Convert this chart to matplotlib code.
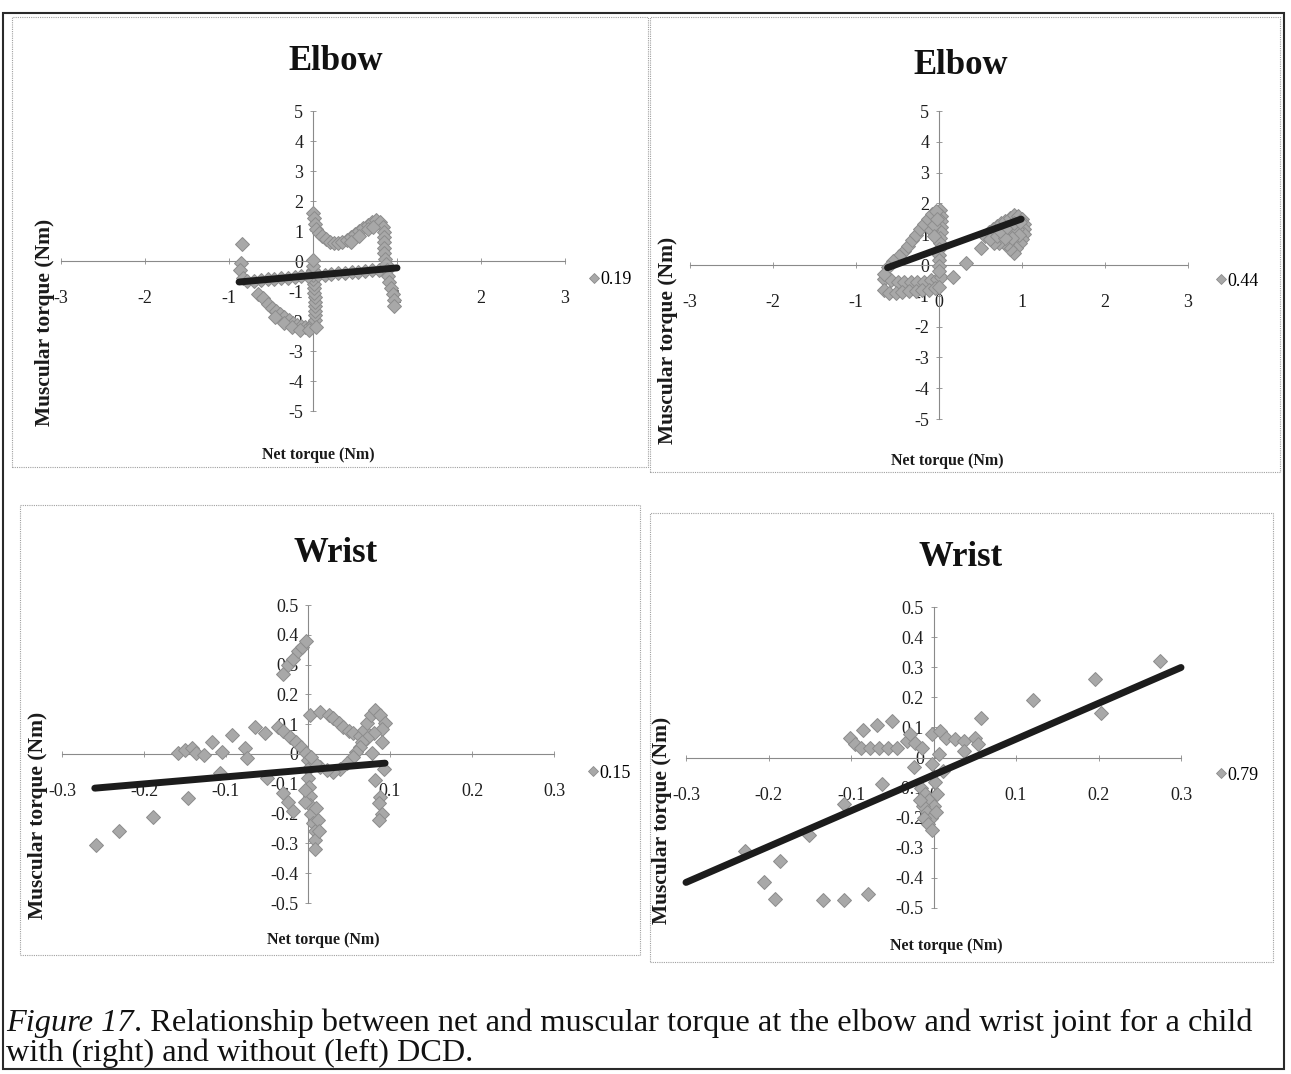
import numpy as np
import matplotlib
matplotlib.use("Agg")
import matplotlib.pyplot as plt
from matplotlib.lines import Line2D
from matplotlib.patches import Rectangle

plt.rcParams['font.family'] = ['Liberation Serif', 'DejaVu Serif']
plt.rcParams['axes.unicode_minus'] = False

W, H = 1291, 1074

# ---------------- data ----------------
# Elbow, child without DCD (left)
elbow_left_x = [
    -0.85, -0.86, -0.87, -0.83, -0.66, -0.60, -0.54, -0.49, -0.44, -0.39, -0.34, -0.29,
    -0.24, -0.19, -0.14, -0.09, -0.04, 0.00, 0.02, 0.02, 0.02, 0.02, 0.02, 0.02, 0.01,
    0.01, 0.01, 0.00, 0.00, 0.00, 0.00, 0.00,
    -0.45, -0.35, -0.25, -0.15, -0.05, 0.04,
    -0.78, -0.70, -0.62, -0.54, -0.46, -0.38, -0.30, -0.22, -0.14, -0.06, 0.06, 0.14,
    0.22, 0.30, 0.38, 0.46, 0.54, 0.62, 0.70, 0.78,
    0.00, 0.01, 0.02, 0.04, 0.07, 0.11, 0.15, 0.20, 0.25, 0.30, 0.35, 0.40, 0.45, 0.50,
    0.55, 0.60, 0.65, 0.70, 0.75, 0.80, 0.83, 0.85, 0.85, 0.85, 0.85, 0.85, 0.86, 0.87,
    0.88, 0.89, 0.91, 0.93, 0.95, 0.96, 0.97,
    0.45, 0.55, 0.65, 0.72,
]
elbow_left_y = [
    0.58, -0.08, -0.30, -0.55, -1.10, -1.22, -1.42, -1.55, -1.66, -1.76, -1.86, -1.96,
    -2.05, -2.13, -2.18, -2.20, -2.18, -2.10, -1.95, -1.80, -1.65, -1.50, -1.35, -1.20, -1.05,
    -0.90, -0.75, -0.60, -0.45, -0.30, -0.15, 0.02,
    -1.85, -2.05, -2.20, -2.30, -2.30, -2.20,
    -0.67, -0.65, -0.63, -0.61, -0.59, -0.57, -0.55, -0.53, -0.51, -0.50, -0.47, -0.45,
    -0.43, -0.41, -0.39, -0.37, -0.35, -0.33, -0.31, -0.29,
    1.60, 1.42, 1.25, 1.08, 0.94, 0.82, 0.72, 0.64, 0.60, 0.60, 0.64, 0.70, 0.80, 0.90,
    1.00, 1.10, 1.20, 1.30, 1.36, 1.30, 1.15, 0.98, 0.80, 0.62, 0.44, 0.26, 0.08, -0.10,
    -0.30, -0.50, -0.70, -0.90, -1.10, -1.30, -1.50,
    0.65, 0.85, 1.05, 1.15,
]

# Elbow, child with DCD (right)
elbow_right_x = [
    -0.66, -0.58, -0.50, -0.42, -0.34, -0.26, -0.18, -0.10, -0.03, 0.02,
    -0.66, -0.60, -0.52, -0.44, -0.36, -0.28, -0.20, -0.12, -0.05, 0.00,
    0.01, 0.02, 0.02, 0.02, 0.02, 0.01, 0.01, 0.00, 0.00, 0.00, 0.00, 0.00,
    -0.42, -0.37, -0.33, -0.28, -0.23, -0.18, -0.13, -0.08, -0.04,
    -0.10, -0.06, -0.06, -0.03, -0.48, -0.55, -0.61, -0.66,
    0.17, 0.33, 0.50,
    0.56, 0.60, 0.65, 0.70, 0.75, 0.80, 0.85, 0.90, 0.95, 1.00, 1.03, 1.03, 1.02, 1.00,
    0.97, 0.93, 0.90, 0.86, 0.82, 0.77, 0.72, 0.66, 0.62, 0.70, 0.78, 0.86, 0.94, 0.96,
    0.88, 0.80, 0.74, 0.82, 0.90, 0.97,
]
elbow_right_y = [
    -0.45, -0.50, -0.55, -0.55, -0.55, -0.55, -0.55, -0.50, -0.45, -0.40,
    -0.80, -0.90, -0.90, -0.88, -0.85, -0.85, -0.82, -0.80, -0.75, -0.70,
    1.78, 1.60, 1.42, 1.24, 1.06, 0.88, 0.70, 0.52, 0.34, 0.16, -0.02, -0.20,
    0.45, 0.62, 0.80, 0.98, 1.16, 1.34, 1.50, 1.65, 1.76,
    1.15, 1.30, 0.95, 1.50, 0.30, 0.12, -0.08, -0.28,
    -0.38, 0.05, 0.55,
    0.95, 1.08, 1.18, 1.28, 1.36, 1.44, 1.52, 1.62, 1.58, 1.48, 1.34, 1.18, 1.02, 0.86,
    0.70, 0.54, 0.38, 0.52, 0.68, 0.76, 0.70, 0.72, 0.85, 0.95, 1.02, 1.10, 1.18, 0.98,
    0.88, 0.88, 1.12, 1.22, 1.35, 1.38,
]

# Wrist, child without DCD (left)
wrist_left_x = [
    -0.258, -0.231, -0.189, -0.146, -0.158, -0.150, -0.142, -0.136, -0.127, -0.117,
    -0.105, -0.093, -0.077, -0.075, -0.065, -0.052, -0.036, -0.030, -0.022, -0.015,
    -0.008, -0.003, -0.030, -0.025, -0.018, -0.050, -0.107,
    -0.030, -0.024, -0.018, -0.012, -0.007, -0.002,
    0.000, 0.000, 0.000, 0.001, 0.002, 0.003, 0.004, 0.006, 0.008, 0.009, 0.008, 0.010,
    0.012, 0.013, -0.004, -0.004,
    0.002, 0.015, 0.025, 0.031, 0.038, 0.043, 0.050, 0.055, 0.063, 0.068, 0.072, 0.077,
    0.082, 0.088, 0.094, 0.090, 0.080, 0.072, 0.066, 0.063, 0.059, 0.055, 0.047, 0.039,
    0.031, 0.023, 0.015, 0.008, 0.004,
    0.090, 0.078, 0.093, 0.082, 0.088, 0.086, 0.090, 0.086,
]
wrist_left_y = [
    -0.305, -0.260, -0.210, -0.149, 0.005, 0.012, 0.020, 0.003, -0.005, 0.041,
    0.008, 0.064, 0.019, -0.014, 0.092, 0.069, 0.092, 0.078, 0.058, 0.040,
    0.022, 0.005, -0.130, -0.160, -0.190, -0.080, -0.065,
    0.270, 0.300, 0.320, 0.345, 0.360, 0.380,
    -0.020, -0.050, -0.080, -0.110, -0.140, -0.170, -0.200, -0.230, -0.260, -0.290, -0.320, -0.180,
    -0.220, -0.260, -0.160, -0.120,
    0.131, 0.142, 0.130, 0.122, 0.105, 0.092, 0.078, 0.069, 0.060, 0.080, 0.103, 0.130,
    0.148, 0.130, 0.105, 0.085, 0.070, 0.055, 0.040, 0.025, 0.008, -0.009, -0.031, -0.052,
    -0.060, -0.055, -0.043, -0.030, -0.010,
    0.041, 0.002, -0.050, -0.087, -0.143, -0.165, -0.200, -0.220,
]

# Wrist, child with DCD (right)
wrist_right_x = [
    -0.229, -0.205, -0.192, -0.186, -0.151, -0.134, -0.108, -0.108, -0.080, -0.063,
    -0.101, -0.095, -0.086, -0.069, -0.050, -0.088, -0.077, -0.066, -0.055, -0.044,
    -0.032, -0.028, -0.022, -0.024, -0.014, -0.002, 0.008, 0.015, 0.007, -0.002, 0.011,
    0.026, 0.037, 0.037, 0.050, 0.054, 0.058, 0.121, 0.196, 0.203, 0.274,
    -0.015, -0.010, -0.005, 0.000, -0.013, -0.008, -0.003, -0.012, -0.007, -0.002,
    0.004, 0.003, -0.016, 0.002,
]
wrist_right_y = [
    -0.311, -0.415, -0.470, -0.344, -0.257, -0.475, -0.475, -0.153, -0.454, -0.087,
    0.066, 0.044, 0.093, 0.109, 0.120, 0.033, 0.033, 0.033, 0.033, 0.033,
    0.055, 0.077, 0.049, -0.033, 0.033, 0.077, 0.087, 0.066, 0.011, -0.022, -0.044,
    0.060, 0.055, 0.022, 0.066, 0.044, 0.131, 0.191, 0.262, 0.148, 0.322,
    -0.100, -0.120, -0.140, -0.160, -0.160, -0.180, -0.200, -0.200, -0.220, -0.240,
    -0.120, -0.180, -0.140, -0.080,
]

# Linear trend lines: (slope, intercept) and the x span they cover
elbow_left_fit, elbow_left_span = (0.25, -0.48), (-0.88, 1.00)
elbow_right_fit, elbow_right_span = (0.98, 0.52), (-0.62, 0.99)
wrist_left_fit, wrist_left_span = (0.237, -0.053), (-0.26, 0.094)
wrist_right_fit, wrist_right_span = (1.19, -0.058), (-0.30, 0.30)

# Series names shown in the legends (R squared of each fit)
r2_labels = ['0.19', '0.44', '0.15', '0.79']
panel_titles = ['Elbow', 'Elbow', 'Wrist', 'Wrist']

elbow_xticks = [-3, -2, -1, 0, 1, 2, 3]
elbow_xticklabels = ['-3', '-2', '-1', '0', '1', '2', '3']
elbow_yticks = [-5, -4, -3, -2, -1, 0, 1, 2, 3, 4, 5]
elbow_yticklabels = ['-5', '-4', '-3', '-2', '-1', '0', '1', '2', '3', '4', '5']
wrist_xticks = [-0.3, -0.2, -0.1, 0, 0.1, 0.2, 0.3]
wrist_xticklabels = ['-0.3', '-0.2', '-0.1', '0', '0.1', '0.2', '0.3']
wrist_yticks = [-0.5, -0.4, -0.3, -0.2, -0.1, 0, 0.1, 0.2, 0.3, 0.4, 0.5]
wrist_yticklabels = ['-0.5', '-0.4', '-0.3', '-0.2', '-0.1', '0', '0.1', '0.2', '0.3',
                     '0.4', '0.5']

x_axis_title = 'Net torque (Nm)'
y_axis_title = 'Muscular torque (Nm)'
caption_lead = 'Figure 17'
caption_line1 = '. Relationship between net and muscular torque at the elbow and wrist joint for a child'
caption_line2 = 'with (right) and without (left) DCD.'

# ---------------- layout (pixel positions) ----------------
layouts = [
    dict(box=(12, 17, 648, 467), plot=(61, 111, 565, 411), title=(336, 62),
         xlab=(318, 455), ylab=(45, 322), leg=(589, 280)),
    dict(box=(650, 17, 1280, 472), plot=(690, 111, 1188, 419), title=(961, 66),
         xlab=(947, 461), ylab=(668, 340), leg=(1216, 281)),
    dict(box=(20, 505, 640, 955), plot=(62, 605, 554, 903), title=(336, 553),
         xlab=(323, 940), ylab=(38, 815), leg=(588, 773)),
    dict(box=(650, 513, 1273, 962), plot=(686, 607, 1181, 908), title=(961, 557),
         xlab=(946, 946), ylab=(662, 820), leg=(1216, 775)),
]

MARKER_FACE = '#a8a8a8'
MARKER_EDGE = '#8c8c8c'
AXIS_GREY = '#8a8a8a'

fig = plt.figure(figsize=(W / 100, H / 100), dpi=100)
fig.patch.set_facecolor('white')


def fx(x):
    return x / W


def fy(y):
    return 1 - y / H


def draw_panel(lay, xs, ys, fit, span, xticks, xtl, yticks, ytl, title, r2):
    bx0, by0, bx1, by1 = lay['box']
    fig.add_artist(Rectangle((fx(bx0), fy(by1)), (bx1 - bx0) / W, (by1 - by0) / H,
                             transform=fig.transFigure, fill=False, ec='#a0a0a0',
                             lw=0.8, ls=(0, (1, 1))))
    px0, py0, px1, py1 = lay['plot']
    ax = fig.add_axes([fx(px0), fy(py1), (px1 - px0) / W, (py1 - py0) / H])
    ax.set_facecolor('none')
    ax.set_xlim(xticks[0], xticks[-1])
    ax.set_ylim(yticks[0], yticks[-1])
    for side in ('top', 'right'):
        ax.spines[side].set_visible(False)
    for side in ('left', 'bottom'):
        sp = ax.spines[side]
        sp.set_position(('data', 0))
        sp.set_color(AXIS_GREY)
        sp.set_linewidth(0.8)
        sp.set_linestyle((0, (1.2, 1.0)))
    ax.set_xticks(xticks, xtl)
    ax.set_yticks(yticks, ytl)
    ax.tick_params(axis='both', direction='inout', length=4, width=0.6, color=AXIS_GREY,
                   labelsize=13, labelcolor='#1e1e1e')
    ax.tick_params(axis='x', pad=19)
    ax.tick_params(axis='y', pad=5)

    ax.plot(xs, ys, ls='none', marker='D', ms=7.0, mfc=MARKER_FACE, mec=MARKER_EDGE,
            mew=0.7, clip_on=False, zorder=3)
    tx = np.array(span)
    ax.plot(tx, fit[0] * tx + fit[1], color='#1c1c1c', lw=5, solid_capstyle='round',
            zorder=4, clip_on=False)

    fig.text(fx(lay['title'][0]), fy(lay['title'][1]), title, ha='center', va='center',
             fontsize=25, fontweight='bold', color='#111111')
    fig.text(fx(lay['xlab'][0]), fy(lay['xlab'][1]), x_axis_title, ha='center',
             va='center', fontsize=11.5, fontweight='bold', color='#1a1a1a')
    fig.text(fx(lay['ylab'][0]), fy(lay['ylab'][1]), y_axis_title, ha='center',
             va='center', rotation=90, fontsize=15.5, fontweight='bold', color='#1a1a1a')

    handle = Line2D([], [], ls='none', marker='D', ms=4.8, mfc=MARKER_FACE,
                    mec=MARKER_EDGE, mew=0.6)
    ax.legend([handle], [r2], loc='center left',
              bbox_to_anchor=(fx(lay['leg'][0]), fy(lay['leg'][1])),
              bbox_transform=fig.transFigure, frameon=False, handlelength=0.5,
              handletextpad=0.15, borderpad=0, borderaxespad=0, fontsize=13)
    return ax


draw_panel(layouts[0], elbow_left_x, elbow_left_y, elbow_left_fit, elbow_left_span,
           elbow_xticks, elbow_xticklabels, elbow_yticks, elbow_yticklabels,
           panel_titles[0], r2_labels[0])
draw_panel(layouts[1], elbow_right_x, elbow_right_y, elbow_right_fit, elbow_right_span,
           elbow_xticks, elbow_xticklabels, elbow_yticks, elbow_yticklabels,
           panel_titles[1], r2_labels[1])
draw_panel(layouts[2], wrist_left_x, wrist_left_y, wrist_left_fit, wrist_left_span,
           wrist_xticks, wrist_xticklabels, wrist_yticks, wrist_yticklabels,
           panel_titles[2], r2_labels[2])
draw_panel(layouts[3], wrist_right_x, wrist_right_y, wrist_right_fit, wrist_right_span,
           wrist_xticks, wrist_xticklabels, wrist_yticks, wrist_yticklabels,
           panel_titles[3], r2_labels[3])

# outer frame around figure and caption
fig.add_artist(Rectangle((fx(3), fy(1069)), (1284 - 3) / W, (1069 - 13) / H,
                         transform=fig.transFigure, fill=False, ec='#2a2a2a', lw=1.5))

# caption: italic lead followed by regular text
renderer = fig.canvas.get_renderer()
lead = fig.text(fx(6), fy(1031), caption_lead, fontsize=23.3, style='italic',
                va='baseline', ha='left', color='#111111')
bb = lead.get_window_extent(renderer)
fig.text(bb.x1 / W, fy(1031), caption_line1, fontsize=23.3, va='baseline', ha='left',
         color='#111111')
fig.text(fx(6), fy(1061), caption_line2, fontsize=23.3, va='baseline', ha='left',
         color='#111111')

fig.savefig('out.png', dpi=100, facecolor='white')
